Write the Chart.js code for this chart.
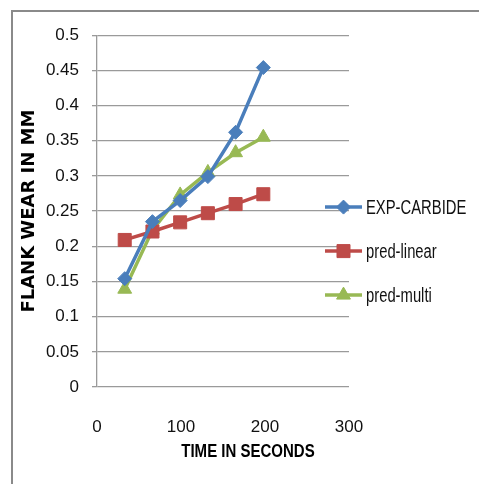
<!DOCTYPE html>
<html>
<head>
<meta charset="utf-8">
<script src="https://cdn.jsdelivr.net/npm/chart.js@4"></script>
<style>
  html, body { margin: 0; padding: 0; background: #fff; }
  #frame {
    position: absolute; left: 11px; top: 10px;
    width: 466px; height: 472px;
    border-left: 2px solid #8a8a8a; border-top: 2px solid #8a8a8a;
  }
  #wear-chart { display: block; }
</style>
</head>
<body>
<div id="frame"><canvas id="wear-chart" width="466" height="472"></canvas></div>
<script>
const timeSeconds = [33, 66, 99, 132, 165, 198];
const expCarbide = [0.154, 0.235, 0.265, 0.299, 0.362, 0.454];
const predLinear = [0.209, 0.221, 0.234, 0.247, 0.260, 0.274];
const predMulti = [0.139, 0.223, 0.273, 0.305, 0.333, 0.355];
const seriesNames = ['EXP-CARBIDE', 'pred-linear', 'pred-multi'];
const xTicks = [0, 100, 200, 300];
const yTickStep = 0.05;

const SANS = "'Liberation Sans', Arial, sans-serif";

const toPoints = (arr) => arr.map((v, i) => ({ x: timeSeconds[i], y: v }));

const makeSet = (label, values, color, style, radius) => ({
    label: label,
    data: toPoints(values),
    borderColor: color,
    backgroundColor: color,
    borderWidth: 3.5,
    pointStyle: style,
    pointRadius: radius,
    pointHoverRadius: radius,
    pointBackgroundColor: color,
    pointBorderColor: color,
    pointBorderWidth: 1,
    tension: 0,
    fill: false
});

// narrow (calibri-ish) text: squeeze horizontally
const narrowText = (ctx, text, x, y, squeeze) => {
    ctx.save();
    ctx.translate(x, y);
    ctx.scale(squeeze, 1);
    ctx.fillText(text, 0, 0);
    ctx.restore();
};

// legend + x title drawn by hand so they sit where excel put them
const excelBits = {
    id: 'excelBits',
    afterDraw(chart) {
        const ctx = chart.ctx;
        const area = chart.chartArea;
        const mid = (area.top + area.bottom) / 2;
        ctx.save();
        chart.data.datasets.forEach((ds, i) => {
            const y = mid + 40 + (i - 1) * 44;
            const x0 = area.right - 24;
            ctx.strokeStyle = ds.borderColor;
            ctx.lineWidth = 3.5;
            ctx.beginPath();
            ctx.moveTo(x0, y);
            ctx.lineTo(x0 + 37, y);
            ctx.stroke();
            ctx.fillStyle = ds.pointBackgroundColor;
            ctx.strokeStyle = ds.pointBorderColor;
            ctx.lineWidth = 1;
            Chart.helpers.drawPoint(ctx, {
                pointStyle: ds.pointStyle,
                radius: ds.pointRadius,
                rotation: 0,
                borderWidth: 1
            }, x0 + 18.5, y);
            ctx.fillStyle = '#111';
            ctx.font = '20px ' + SANS;
            ctx.textAlign = 'left';
            ctx.textBaseline = 'middle';
            narrowText(ctx, ds.label, x0 + 41, y + 1, 0.74);
        });
        ctx.fillStyle = '#000';
        ctx.font = 'bold 19px ' + SANS;
        ctx.textAlign = 'center';
        ctx.textBaseline = 'middle';
        narrowText(ctx, 'TIME IN SECONDS', chart.width / 2 + 2, area.bottom + 65, 0.79);
        ctx.restore();
    }
};

const CHART = document.getElementById('wear-chart');
const wearChart = new Chart(CHART, {
    type: 'line',
    data: {
        datasets: [
            makeSet(seriesNames[0], expCarbide, '#4A7EBB', 'rectRot', 7),
            makeSet(seriesNames[1], predLinear, '#BE4B48', 'rect', 9.2),
            makeSet(seriesNames[2], predMulti, '#98B954', 'triangle', 8)
        ]
    },
    options: {
        responsive: false,
        animation: false,
        layout: { padding: { top: 23, right: 130, bottom: 17, left: 0 } },
        plugins: {
            legend: { display: false },
            tooltip: { enabled: false }
        },
        scales: {
            x: {
                type: 'linear',
                min: 0,
                max: 300,
                afterBuildTicks: (scale) => { scale.ticks = xTicks.map(v => ({ value: v })); },
                afterFit: (scale) => { scale.height = 80; },
                grid: { display: false, drawTicks: false },
                border: { display: false },
                ticks: {
                    padding: 30,
                    color: '#111',
                    font: { family: SANS, size: 17 }
                }
            },
            y: {
                min: 0,
                max: 0.5,
                afterFit: (scale) => { scale.width = 84; },
                ticks: {
                    stepSize: yTickStep,
                    padding: 13,
                    color: '#111',
                    font: { family: SANS, size: 17 },
                    callback: (v) => String(+v.toFixed(2))
                },
                grid: { color: '#9a9a9a', lineWidth: 1.3, tickLength: 5, drawTicks: true },
                border: { display: true, color: '#9a9a9a', width: 1.3 },
                title: {
                    display: true,
                    text: 'FLANK WEAR IN MM',
                    color: '#000',
                    padding: { top: 6, bottom: 0 },
                    font: { family: "'DejaVu Sans', Verdana, sans-serif", size: 18, weight: 'bold' }
                }
            }
        }
    },
    plugins: [excelBits]
});
</script>
</body>
</html>
